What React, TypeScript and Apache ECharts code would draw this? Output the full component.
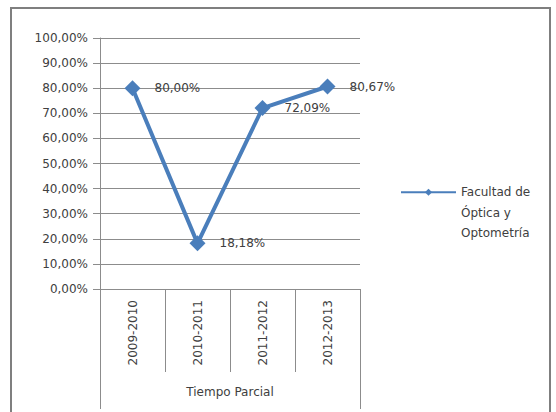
import React, { useEffect, useRef } from "react";
import * as echarts from "echarts";

const categories = ["2009-2010", "2010-2011", "2011-2012", "2012-2013"];
const groupLabel = ["Tiempo Parcial"];
const values = [80.0, 18.18, 72.09, 80.67];
const seriesName = "Facultad de Óptica y Optometría";
const legendLines = ["Facultad de", "Óptica y", "Optometría"];

const FONT = "DejaVu Sans";
const TEXT = "#404040";
const GRID = "#8c8c8c";
const BLUE = "#4A7EBB";

const fmt = (v: number) => v.toFixed(2).replace(".", ",") + "%";

export default function App() {
  const ref = useRef<HTMLDivElement>(null);
  useEffect(() => {
    if (!ref.current) return;
    const chart = echarts.init(ref.current, null, { renderer: "svg" });
    const LH = 20.5;
    chart.setOption({
      animation: false,
      backgroundColor: "#ffffff",
      textStyle: { fontFamily: FONT },
      graphic: [
        {
          type: "rect",
          shape: { x: 11, y: 8, width: 539, height: 430 },
          style: { fill: "none", stroke: "#7f7f7f", lineWidth: 2 },
          silent: true,
        },
      ],
      grid: { left: 100, right: 196, top: 38, bottom: 123 },
      legend: {
        show: true,
        left: 400,
        top: 141,
        padding: 0,
        itemWidth: 55,
        itemHeight: 9,
        itemGap: 4,
        data: [seriesName],
        formatter: () => "\n\n" + legendLines.join("\n"),
        textStyle: {
          fontFamily: FONT,
          fontSize: 12,
          color: TEXT,
          lineHeight: LH,
        },
      },
      xAxis: [
        {
          type: "category",
          data: categories,
          boundaryGap: true,
          axisLine: { show: true, lineStyle: { color: GRID, width: 1 } },
          axisTick: { show: true, interval: 0, length: 83, lineStyle: { color: GRID } },
          axisLabel: {
            interval: 0,
            rotate: 90,
            margin: 11,
            fontFamily: FONT,
            fontSize: 12,
            color: TEXT,
          },
          splitLine: { show: false },
        },
        {
          type: "category",
          data: groupLabel,
          position: "bottom",
          boundaryGap: true,
          axisLine: { show: false },
          axisTick: { show: true, interval: 0, length: 120, lineStyle: { color: GRID } },
          axisLabel: { margin: 97, fontFamily: FONT, fontSize: 12, color: TEXT },
          splitLine: { show: false },
        },
      ],
      yAxis: {
        type: "value",
        min: 0,
        max: 100,
        interval: 10,
        axisLine: { show: true, lineStyle: { color: GRID, width: 1 } },
        axisTick: { show: true, length: 7, lineStyle: { color: GRID } },
        axisLabel: {
          formatter: (v: number) => fmt(v),
          margin: 12,
          fontFamily: FONT,
          fontSize: 12,
          color: TEXT,
        },
        splitLine: { show: true, lineStyle: { color: GRID, width: 1 } },
      },
      series: [
        {
          name: seriesName,
          type: "line",
          xAxisIndex: 0,
          data: values,
          symbol: "diamond",
          symbolSize: 16,
          lineStyle: { color: BLUE, width: 4 },
          itemStyle: { color: BLUE },
          label: {
            show: true,
            position: "right",
            distance: 14,
            formatter: (p: any) => fmt(p.value),
            fontFamily: FONT,
            fontSize: 12,
            color: TEXT,
          },
        },
      ],
    });
    return () => chart.dispose();
  }, []);
  return (
    <div
      ref={ref}
      style={{ position: "fixed", left: 0, top: 0, width: 556, height: 412 }}
    />
  );
}
